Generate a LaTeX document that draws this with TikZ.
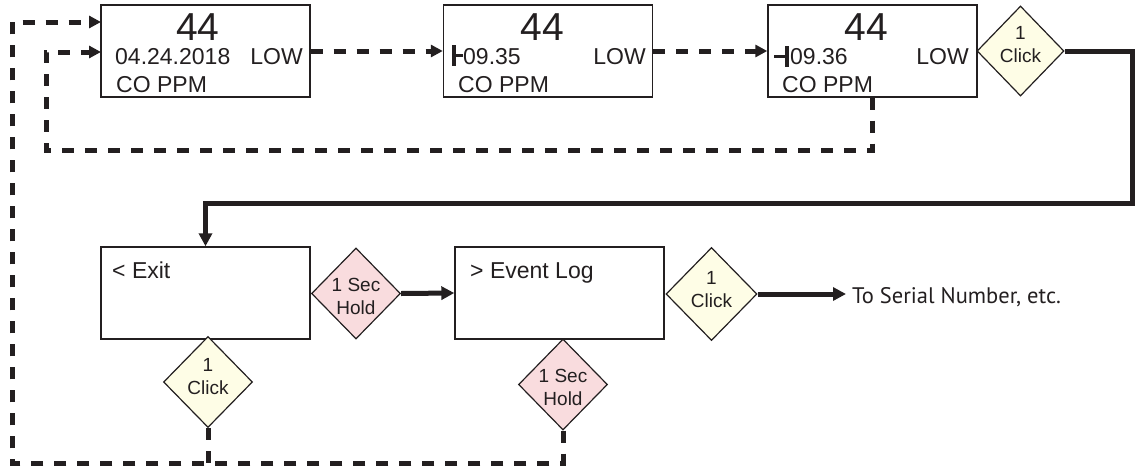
\documentclass[tikz,border=0pt]{standalone}
\usepackage{fontspec}
\setmainfont{Liberation Sans}
\newfontfamily\serialfont{PT Sans}
\usetikzlibrary{shapes.geometric,arrows.meta,calc}
\definecolor{ink}{HTML}{231F20}
\definecolor{clickfill}{HTML}{FEFDE6}
\definecolor{holdfill}{HTML}{F9DCDE}
\begin{document}
\begin{tikzpicture}[x=1pt,y=-1pt,
  screen/.style={draw=ink,line width=1.4pt,fill=white,minimum width=209pt,minimum height=92pt,inner sep=0pt},
  diam/.style={diamond,draw=ink,line width=1.2pt,inner sep=0pt,minimum width=89pt,minimum height=91pt},
  clickd/.style={diam,fill=clickfill},
  holdd/.style={diam,fill=holdfill},
  big/.style={font=\fontsize{39}{40}\selectfont,inner sep=0pt,anchor=base,text=ink},
  txt/.style={font=\fontsize{23}{27}\selectfont,inner sep=0pt,text=ink},
  dtxt/.style={font=\fontsize{19}{23}\selectfont,align=center,inner sep=0pt,text=ink},
  dashline/.style={draw=ink,line width=5pt,dash pattern=on 12pt off 11pt},
  dasharrow/.style={dashline,-{Triangle[length=12pt,width=12pt]}},
  solidline/.style={draw=ink,line width=5pt,line join=miter},
  solidarrow/.style={solidline,-{Triangle[length=13pt,width=13pt]}},
  cursorbar/.style={draw=ink,line width=4pt},
  cursortick/.style={draw=ink,line width=2.5pt}
]
\useasboundingbox (0,0) rectangle (1135,469);

% screens
\node[screen] (b1) at (205.5,51) {};
\node[screen] (b2) at (548,51) {};
\node[screen] (b3) at (872.5,51) {};
\node[screen] (ex) at (205.5,293) {};
\node[screen] (ev) at (559.5,293) {};

% diamonds
\node[clickd,minimum width=87pt,minimum height=90pt] (d1) at (1020.5,51) {};
\node[holdd]  (d2) at (356,293.5) {};
\node[clickd] (d3) at (208,382) {};
\node[holdd]  (d4) at (563,384.5) {};
\node[clickd,minimum width=91pt,minimum height=93pt] (d5) at (711.5,294) {};

% screen texts
\node[big] (b1n) at (198,40) {44};
\node[txt,anchor=base west] (b1d) at (115,64) {04.24.2018};
\node[txt,anchor=base east] (b1l) at (303,64) {LOW};
\node[txt,anchor=base west] (b1c) at (116,92) {CO PPM};

\node[big] (b2n) at (542,40) {44};
\node[txt,anchor=base west] (b2d) at (463,64) {09.35};
\node[txt,anchor=base east] (b2l) at (646,64) {LOW};
\node[txt,anchor=base west] (b2c) at (458,92) {CO PPM};

\node[big] (b3n) at (866,40) {44};
\node[txt,anchor=base west] (b3d) at (790,64) {09.36};
\node[txt,anchor=base east] (b3l) at (969,64) {LOW};
\node[txt,anchor=base west] (b3c) at (782,92) {CO PPM};

% cursors
\draw[cursorbar] (454,45) -- (454,66);
\draw[cursortick] (455,55.5) -- (463,55.5);
\draw[cursorbar] (786.5,46) -- (786.5,67);
\draw[cursortick] (774,56.5) -- (786,56.5);

\node[txt,anchor=base west] (ext) at (112,278) {< Exit};
\node[txt,anchor=base west] (evt) at (470,278) {> Event Log};

% diamond texts
\node[dtxt] (d1t) at (1020.5,45) {1\\Click};
\node[dtxt] (d2t) at (356,296.5) {1 Sec\\Hold};
\node[dtxt] (d3t) at (208,376.5) {1\\Click};
\node[dtxt] (d4t) at (563,387.5) {1 Sec\\Hold};
\node[dtxt] (d5t) at (711.5,290) {1\\Click};

\node[font=\serialfont\fontsize{22.5}{26}\selectfont,anchor=base west,inner sep=0pt,text=ink] (ser) at (852,303) {To Serial Number, etc.};

% solid connectors
\coordinate (tr) at (1132,51);
\coordinate (br) at (1132,203);
\coordinate (bl) at (205.5,203);
\draw[solidarrow] (d1.east) -- (tr) -- (br) -- (bl) -- (ex.north);
\draw[solidarrow] (d2.east) -- (ev.west);
\coordinate (sertip) at (846,294);
\draw[solidarrow] (d5.east) -- (sertip);

% dashed connectors
\draw[dasharrow] (b1.east) -- (b2.west);
\draw[dasharrow] (b2.east) -- (b3.west);
\coordinate (l1) at (872.5,150);
\coordinate (l2) at (46,150);
\coordinate (l3) at (46,52);
\coordinate (l4) at (101,52);
\draw[dasharrow] (b3.south) -- (l1) -- (l2) -- (l3) -- (l4);
\coordinate (o0) at (208,463);
\draw[dashline] (d3.south) -- (o0);
\coordinate (o1) at (563,463);
\coordinate (o2) at (12,463);
\coordinate (o3) at (12,22);
\coordinate (o4) at (101,22);
\draw[dasharrow] (d4.south) -- (o1) -- (o2) -- (o3) -- (o4);
\end{tikzpicture}
\end{document}
